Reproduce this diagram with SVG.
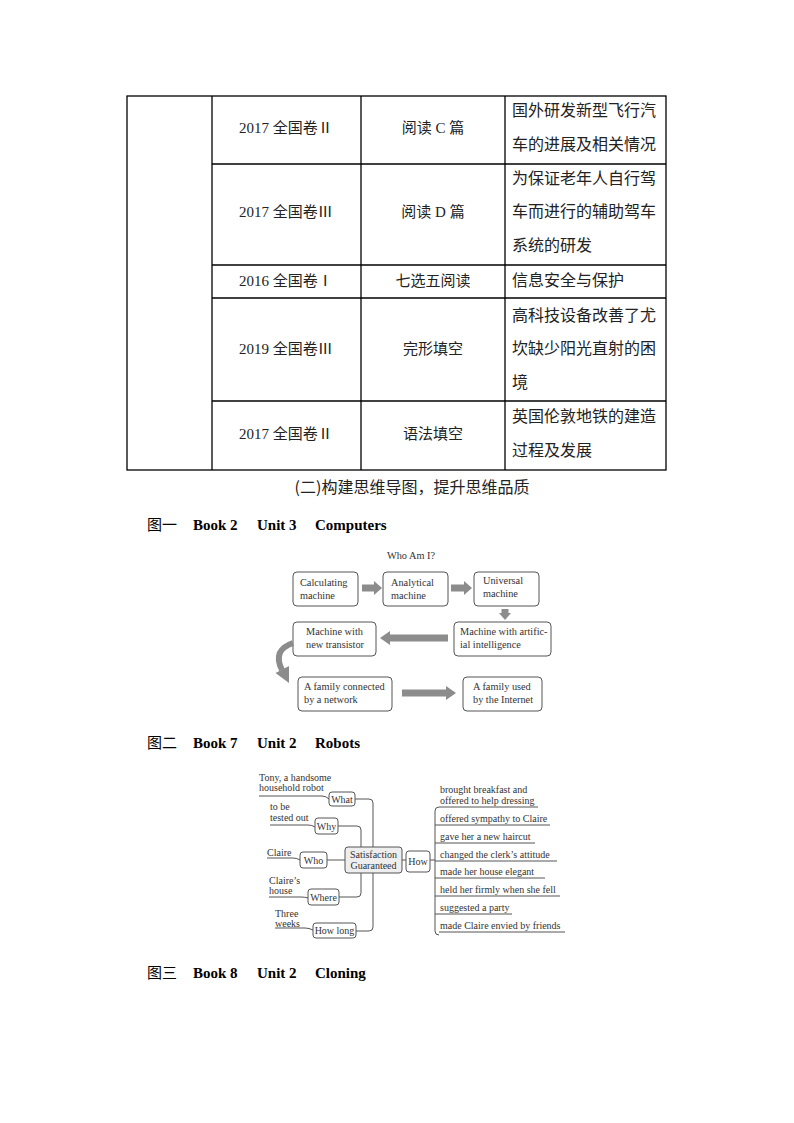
<svg xmlns="http://www.w3.org/2000/svg" width="794" height="1123" viewBox="0 0 794 1123">
<style>
.tl{stroke:#000;stroke-width:1.3;fill:none}
.cn{font-family:"Liberation Serif","Noto Sans CJK SC",serif;font-size:15px;fill:#222}
.cc{font-family:"Noto Sans CJK SC",sans-serif;font-size:15px;fill:#222}
.hd{font-family:"Liberation Serif","Noto Sans CJK SC",serif;font-size:15px;font-weight:bold;fill:#000}
.hc{font-family:"Noto Sans CJK SC",serif;font-size:15px;fill:#000}
.bx{fill:#fff;stroke:#555;stroke-width:1}
.ft{font-family:"Liberation Serif","DejaVu Serif",serif;font-size:10.3px;fill:#333}
.f2{font-family:"Liberation Serif","DejaVu Serif",serif;font-size:10px;fill:#333}
.ar{fill:#8c8c8c}
.ln{stroke:#555;stroke-width:1;fill:none}
</style>
<g id="table">
<rect class="tl" x="127" y="96" width="539" height="374"/>
<line class="tl" x1="212" y1="96" x2="212" y2="470"/>
<line class="tl" x1="361" y1="96" x2="361" y2="470"/>
<line class="tl" x1="505" y1="96" x2="505" y2="470"/>
<line class="tl" x1="212" y1="164" x2="666" y2="164"/>
<line class="tl" x1="212" y1="265" x2="666" y2="265"/>
<line class="tl" x1="212" y1="298" x2="666" y2="298"/>
<line class="tl" x1="212" y1="401" x2="666" y2="401"/>
<g class="cn" text-anchor="middle">
<text x="286" y="133">2017 全国卷Ⅱ</text>
<text x="286" y="217">2017 全国卷Ⅲ</text>
<text x="286" y="286">2016 全国卷Ⅰ</text>
<text x="286" y="354">2019 全国卷Ⅲ</text>
<text x="286" y="439">2017 全国卷Ⅱ</text>
<text x="433" y="133">阅读 C 篇</text>
<text x="433" y="217">阅读 D 篇</text>
</g>
<g class="cc" text-anchor="middle">
<text x="433" y="286">七选五阅读</text>
<text x="433" y="354">完形填空</text>
<text x="433" y="439">语法填空</text>
</g>
<g class="cc" style="font-size:16px">
<text x="512" y="116">国外研发新型飞行汽</text>
<text x="512" y="150">车的进展及相关情况</text>
<text x="512" y="184">为保证老年人自行驾</text>
<text x="512" y="217">车而进行的辅助驾车</text>
<text x="512" y="251">系统的研发</text>
<text x="512" y="286">信息安全与保护</text>
<text x="512" y="321">高科技设备改善了尤</text>
<text x="512" y="354">坎缺少阳光直射的困</text>
<text x="512" y="388">境</text>
<text x="512" y="422">英国伦敦地铁的建造</text>
<text x="512" y="456">过程及发展</text>
</g>
</g>
<text class="cc" x="412" y="493" text-anchor="middle" style="font-size:16px">(二)构建思维导图，提升思维品质</text>
<g id="heading1"><text class="hc" x="147" y="530">图一</text><text class="hd" x="193" y="530">Book 2</text><text class="hd" x="257" y="530">Unit 3</text><text class="hd" x="315" y="530">Computers</text></g>
<g id="figure1">
<text class="ft" x="411" y="559" text-anchor="middle">Who Am I?</text>
<g id="n-calc"><rect class="bx" x="293" y="572" width="65" height="34" rx="4"/><text class="ft" x="300" y="586">Calculating</text><text class="ft" x="300" y="599">machine</text></g>
<g id="n-anal"><rect class="bx" x="383" y="572" width="65" height="34" rx="4"/><text class="ft" x="391" y="586">Analytical</text><text class="ft" x="391" y="599">machine</text></g>
<g id="n-univ"><rect class="bx" x="474" y="572" width="65" height="34" rx="4"/><text class="ft" x="483" y="584">Universal</text><text class="ft" x="483" y="597">machine</text></g>
<g id="n-ai"><rect class="bx" x="454" y="622" width="97" height="34" rx="4"/><text class="ft" x="460" y="635">Machine with artific-</text><text class="ft" x="460" y="648">ial intelligence</text></g>
<g id="n-trans"><rect class="bx" x="293" y="622" width="83" height="34" rx="4"/><text class="ft" x="306" y="635">Machine with</text><text class="ft" x="306" y="648">new transistor</text></g>
<g id="n-net"><rect class="bx" x="298" y="677" width="94" height="34" rx="4"/><text class="ft" x="304" y="690">A family connected</text><text class="ft" x="304" y="703">by a network</text></g>
<g id="n-inet"><rect class="bx" x="463" y="677" width="79" height="34" rx="4"/><text class="ft" x="473" y="690">A family used</text><text class="ft" x="473" y="703">by the Internet</text></g>
<g id="f1-connectors">
<polygon class="ar" points="362,584.5 374,584.5 374,581 382,588 374,595 374,591.5 362,591.5"/>
<polygon class="ar" points="451,584.5 464,584.5 464,581 472,588 464,595 464,591.5 451,591.5"/>
<polygon class="ar" points="501.5,609 508.5,609 508.5,613 511,613 505,620 499,613 501.5,613"/>
<polygon class="ar" points="448,634.5 390,634.5 390,631 380,638 390,645 390,641.5 448,641.5"/>
<polygon class="ar" points="402,689.5 446,689.5 446,686 456,693 446,700 446,696.5 402,696.5"/>
<path d="M293 643 Q272 650 282 670" stroke="#8c8c8c" stroke-width="6" fill="none"/>
<polygon class="ar" points="275.5,673 289,666 289,683"/>
</g>
</g>
<g id="heading2"><text class="hc" x="147" y="748">图二</text><text class="hd" x="193" y="748">Book 7</text><text class="hd" x="257" y="748">Unit 2</text><text class="hd" x="315" y="748">Robots</text></g>
<g id="figure2">
<g id="f2-connectors">
<path class="ln" d="M355 799 H369 Q373 799 373 803 V847"/>
<path class="ln" d="M373 873 V927 Q373 931 369 931 H356"/>
<path class="ln" d="M338 826 H357 Q361 826 361 830 V847"/>
<path class="ln" d="M361 873 V893 Q361 897 357 897 H339"/>
<line class="ln" x1="327" y1="860" x2="345" y2="860"/>
<line class="ln" x1="402" y1="860" x2="406" y2="860"/>
<path class="ln" d="M259 796 H322 Q326 796 329 799"/>
<path class="ln" d="M270 825 H308 Q312 825 315 827"/>
<path class="ln" d="M267 858 H293 Q297 858 300 860"/>
<path class="ln" d="M269 897 H301 Q305 897 308 898"/>
<path class="ln" d="M275 928 H305 Q309 928 313 930"/>
<line class="ln" x1="430" y1="860" x2="435" y2="860"/>
<path class="ln" d="M538 807 H439 Q435 807 435 811 V931 Q435 935 439 935"/>
<line class="ln" x1="435" y1="825" x2="550" y2="825"/>
<line class="ln" x1="435" y1="843" x2="535" y2="843"/>
<line class="ln" x1="435" y1="861" x2="557" y2="861"/>
<line class="ln" x1="435" y1="878" x2="545" y2="878"/>
<line class="ln" x1="435" y1="896" x2="560" y2="896"/>
<line class="ln" x1="435" y1="914" x2="512" y2="914"/>
<line class="ln" x1="439" y1="932" x2="565" y2="932"/>
</g>
<g id="n-center"><rect x="345" y="847" width="57" height="26" rx="3" fill="#eee" stroke="#555"/><text class="f2" x="373.5" y="858" text-anchor="middle">Satisfaction</text><text class="f2" x="373.5" y="869" text-anchor="middle">Guaranteed</text></g>
<g id="n-what"><rect class="bx" x="329" y="792" width="26" height="14" rx="3"/><text class="f2" x="342" y="802.5" text-anchor="middle">What</text></g>
<g id="n-why"><rect class="bx" x="315" y="818" width="23" height="16" rx="3"/><text class="f2" x="326.5" y="829.5" text-anchor="middle">Why</text></g>
<g id="n-who"><rect class="bx" x="300" y="852" width="27" height="16" rx="3"/><text class="f2" x="313.5" y="863.5" text-anchor="middle">Who</text></g>
<g id="n-where"><rect class="bx" x="308" y="889" width="31" height="16" rx="3"/><text class="f2" x="323.5" y="900.5" text-anchor="middle">Where</text></g>
<g id="n-howlong"><rect class="bx" x="313" y="923" width="43" height="15" rx="3"/><text class="f2" x="334.5" y="934" text-anchor="middle">How long</text></g>
<g id="n-how"><rect class="bx" x="406" y="851" width="24" height="21" rx="3"/><text class="f2" x="418" y="864.5" text-anchor="middle">How</text></g>
<g id="labels-left" class="f2">
<text x="259" y="781">Tony, a handsome</text><text x="259" y="791">household robot</text>
<text x="270" y="810">to be</text><text x="270" y="821">tested out</text>
<text x="267" y="856">Claire</text>
<text x="269" y="884">Claire’s</text><text x="269" y="894">house</text>
<text x="275" y="917">Three</text><text x="275" y="927">weeks</text>
</g>
<g id="labels-right" class="f2">
<text x="440" y="793">brought breakfast and</text><text x="440" y="804">offered to help dressing</text>
<text x="440" y="822">offered sympathy to Claire</text>
<text x="440" y="840">gave her a new haircut</text>
<text x="440" y="858">changed the clerk’s attitude</text>
<text x="440" y="875">made her house elegant</text>
<text x="440" y="893">held her firmly when she fell</text>
<text x="440" y="911">suggested a party</text>
<text x="440" y="929">made Claire envied by friends</text>
</g>
</g>
<g id="heading3"><text class="hc" x="147" y="978">图三</text><text class="hd" x="193" y="978">Book 8</text><text class="hd" x="257" y="978">Unit 2</text><text class="hd" x="315" y="978">Cloning</text></g>
</svg>
